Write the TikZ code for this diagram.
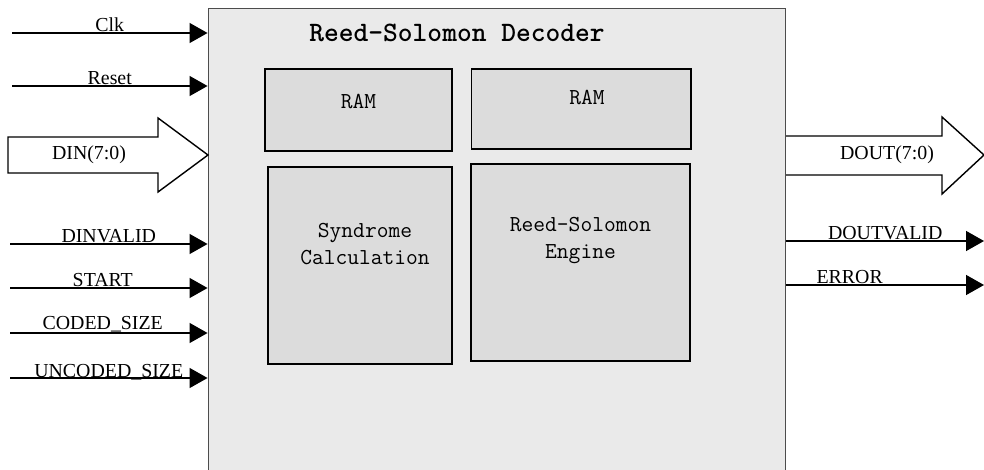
\documentclass[tikz,border=0pt]{standalone}
\usepackage{fontspec}
\setmainfont{Liberation Serif}
\usetikzlibrary{arrows.meta,positioning}
\definecolor{outerfill}{HTML}{EAEAEA}
\definecolor{innerfill}{HTML}{DCDCDC}
\tikzset{
    blk/.style={draw=black, fill=innerfill, line width=0.6pt, inner sep=0pt},
    blktext/.style={font=\ttfamily\fontsize{13}{15.3}\selectfont, align=center},
    sig/.style={line width=0.8pt, -{Triangle[length=0.36cm,width=0.4cm]}},
    siglabel/.style={font=\fontsize{11.3}{13}\selectfont, inner sep=0.5pt},
    bus/.style={line width=0.8pt, fill=white, line join=miter}
}
\begin{document}
\begin{tikzpicture}[x=0.02cm, y=-0.02cm]
    \useasboundingbox (0,0) rectangle (984,470);

    % Decoder block
    \node[draw=black!70, fill=outerfill, line width=0.6pt, minimum width=11.56cm, minimum height=9.28cm] (dec) at (497,240) {};
    \node[font=\ttfamily\bfseries\fontsize{16}{18}\selectfont] (title) at ([xshift=-0.8cm, yshift=-0.5cm]dec.north) {Reed-Solomon Decoder};

    % Inner blocks
    \node[blk, minimum width=3.74cm, minimum height=1.64cm] (ramA) at (358.5,110) {};
    \node[blk, minimum width=4.4cm, minimum height=1.6cm] (ramB) at (581,109) {};
    \node[blk, minimum width=3.68cm, minimum height=3.94cm] (synd) at (360,265.5) {};
    \node[blk, minimum width=4.38cm, minimum height=3.94cm] (engine) at (580.5,262.5) {};

    \node[blktext] (ramAtext) at ([yshift=-0.66cm]ramA.north) {RAM};
    \node[blktext] (ramBtext) at ([xshift=0.12cm, yshift=-0.58cm]ramB.north) {RAM};
    \node[blktext] (syndtext) at ([xshift=0.1cm, yshift=-1.55cm]synd.north) {Syndrome\\Calculation};
    \node[blktext] (enginetext) at ([yshift=-1.54cm]engine.north) {Reed-Solomon\\Engine};

    % Input signals
    \coordinate (clk) at (12,33);
    \coordinate (reset) at (12,86);
    \coordinate (dinvalid) at (10,244);
    \coordinate (start) at (10,288);
    \coordinate (codedsize) at (10,333);
    \coordinate (uncodedsize) at (10,378);

    \draw[sig] (clk) -- node[siglabel, above] {Clk} (clk -| dec.west);
    \draw[sig] (reset) -- node[siglabel, above] {Reset} (reset -| dec.west);
    \draw[sig] (dinvalid) -- node[siglabel, above] {DINVALID} (dinvalid -| dec.west);
    \draw[sig] (start) -- node[siglabel, above, xshift=-0.12cm] {START} (start -| dec.west);
    \draw[sig] (codedsize) -- node[siglabel, above, inner sep=0pt, xshift=-0.12cm] {CODED\_SIZE} (codedsize -| dec.west);
    \draw[sig] (uncodedsize) -- node[siglabel, above, inner sep=0pt, yshift=-0.05cm] {UNCODED\_SIZE} (uncodedsize -| dec.west);

    % Input bus
    \draw[bus] (8,137) -- (158,137) -- (158,118) -- (208,155) -- (158,192) -- (158,173) -- (8,173) -- cycle;
    \node[siglabel] (din) at (89,155) {DIN(7:0)};

    % Output bus
    \draw[bus, fill=none] (786,136) -- (942,136) -- (942,117) -- (984,155) -- (942,194) -- (942,175) -- (786,175);
    \node[siglabel] (dout) at (887,155) {DOUT(7:0)};

    % Output signals
    \coordinate (doutvalid) at (984,241);
    \coordinate (error) at (984,285);

    \draw[sig] (doutvalid -| dec.east) -- node[siglabel, above] {DOUTVALID} (doutvalid);
    \draw[sig] (error -| dec.east) -- node[siglabel, above, pos=0.32] {ERROR} (error);
\end{tikzpicture}
\end{document}
